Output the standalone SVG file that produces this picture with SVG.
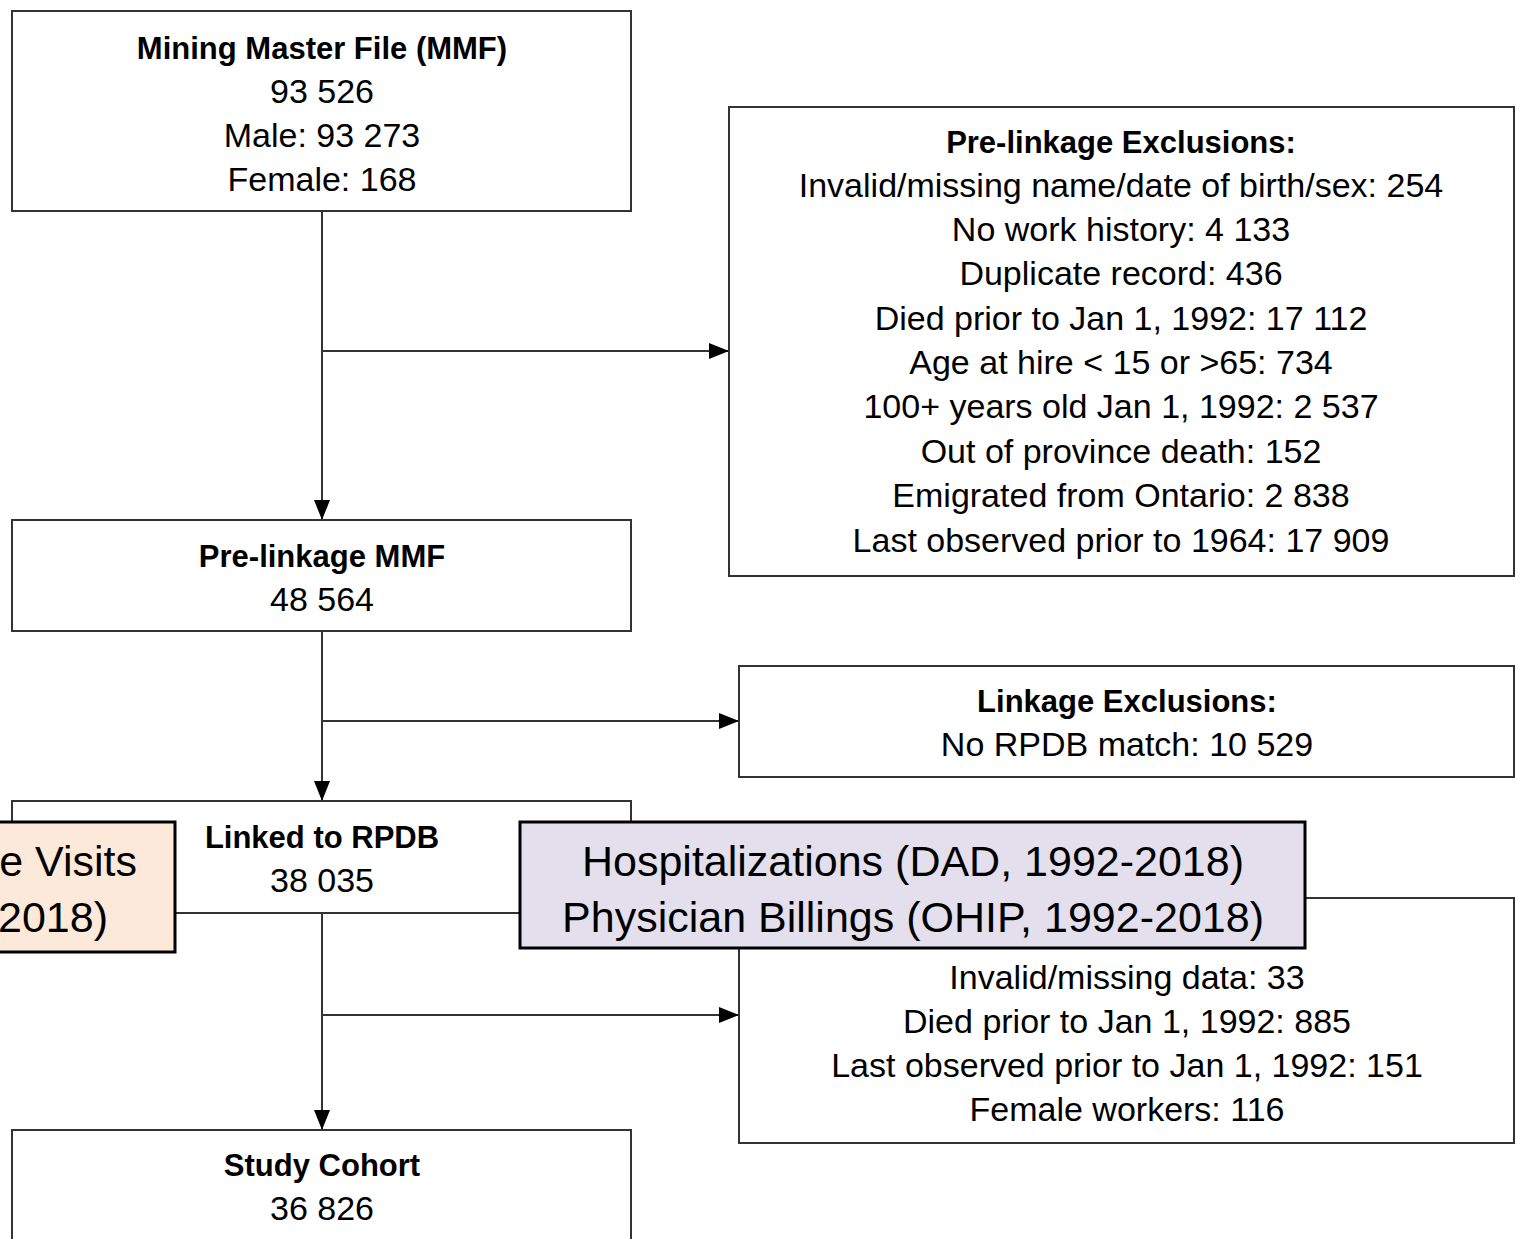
<svg xmlns="http://www.w3.org/2000/svg" width="1516" height="1239" viewBox="0 0 1516 1239">
<style>
.box{fill:#fff;stroke:#333;stroke-width:2}
.t{font-family:"Liberation Sans",Arial,sans-serif;font-size:34px;fill:#000;text-anchor:middle}
.b{font-weight:bold;font-size:31px}
.ln{stroke:#333;stroke-width:2;fill:none}
.ov{stroke:#000;stroke-width:3}
.big{font-family:"Liberation Sans",Arial,sans-serif;font-size:43px;fill:#000}
</style>
<defs>
<marker id="av" viewBox="0 0 20 16" refX="20" refY="8" markerWidth="20" markerHeight="16" markerUnits="userSpaceOnUse" orient="auto">
<path d="M0,0 L20,8 L0,16 z" fill="#000"/>
</marker>
</defs>
<rect width="1516" height="1239" fill="#fff"/>
<g id="connectors">
<line class="ln" x1="322" y1="211" x2="322" y2="520" marker-end="url(#av)"/>
<line class="ln" x1="322" y1="351" x2="729" y2="351" marker-end="url(#av)"/>
<line class="ln" x1="322" y1="631" x2="322" y2="801" marker-end="url(#av)"/>
<line class="ln" x1="322" y1="721" x2="739" y2="721" marker-end="url(#av)"/>
<line class="ln" x1="322" y1="913" x2="322" y2="1130" marker-end="url(#av)"/>
<line class="ln" x1="322" y1="1015" x2="739" y2="1015" marker-end="url(#av)"/>
</g>
<g id="mmf">
<rect class="box" x="12" y="11" width="619" height="200"/>
<text class="t b" x="322" y="59">Mining Master File (MMF)</text>
<text class="t" x="322" y="103">93 526</text>
<text class="t" x="322" y="147">Male: 93 273</text>
<text class="t" x="322" y="191">Female: 168</text>
</g>
<g id="prelink-excl">
<rect class="box" x="729" y="107" width="785" height="469"/>
<text class="t b" x="1121" y="153">Pre-linkage Exclusions:</text>
<text class="t" x="1121" y="197">Invalid/missing name/date of birth/sex: 254</text>
<text class="t" x="1121" y="241">No work history: 4 133</text>
<text class="t" x="1121" y="285">Duplicate record: 436</text>
<text class="t" x="1121" y="330">Died prior to Jan 1, 1992: 17 112</text>
<text class="t" x="1121" y="374">Age at hire &lt; 15 or &gt;65: 734</text>
<text class="t" x="1121" y="418">100+ years old Jan 1, 1992: 2 537</text>
<text class="t" x="1121" y="463">Out of province death: 152</text>
<text class="t" x="1121" y="507">Emigrated from Ontario: 2 838</text>
<text class="t" x="1121" y="552">Last observed prior to 1964: 17 909</text>
</g>
<g id="prelink-mmf">
<rect class="box" x="12" y="520" width="619" height="111"/>
<text class="t b" x="322" y="567">Pre-linkage MMF</text>
<text class="t" x="322" y="611">48 564</text>
</g>
<g id="link-excl">
<rect class="box" x="739" y="666" width="775" height="111"/>
<text class="t b" x="1127" y="712">Linkage Exclusions:</text>
<text class="t" x="1127" y="756">No RPDB match: 10 529</text>
</g>
<g id="linked">
<rect class="box" x="12" y="801" width="619" height="112"/>
<text class="t b" x="322" y="848">Linked to RPDB</text>
<text class="t" x="322" y="892">38 035</text>
</g>
<g id="post-excl">
<rect class="box" x="739" y="898" width="775" height="245"/>
<text class="t" x="1127" y="989">Invalid/missing data: 33</text>
<text class="t" x="1127" y="1033">Died prior to Jan 1, 1992: 885</text>
<text class="t" x="1127" y="1077">Last observed prior to Jan 1, 1992: 151</text>
<text class="t" x="1127" y="1121">Female workers: 116</text>
</g>
<g id="cohort">
<rect class="box" x="12" y="1130" width="619" height="130"/>
<text class="t b" x="322" y="1176">Study Cohort</text>
<text class="t" x="322" y="1220">36 826</text>
</g>
<g id="ed-visits">
<rect class="ov" x="-20" y="822" width="195" height="130" fill="#fde9d9"/>
<text class="big" x="137" y="876" text-anchor="end">e Visits</text>
<text class="big" x="108" y="932" text-anchor="end">2018)</text>
</g>
<g id="hosp">
<rect class="ov" x="520" y="822" width="785" height="126" fill="#e4dfec"/>
<text class="big" x="913" y="876" text-anchor="middle">Hospitalizations (DAD, 1992-2018)</text>
<text class="big" x="913" y="932" text-anchor="middle">Physician Billings (OHIP, 1992-2018)</text>
</g>
</svg>
